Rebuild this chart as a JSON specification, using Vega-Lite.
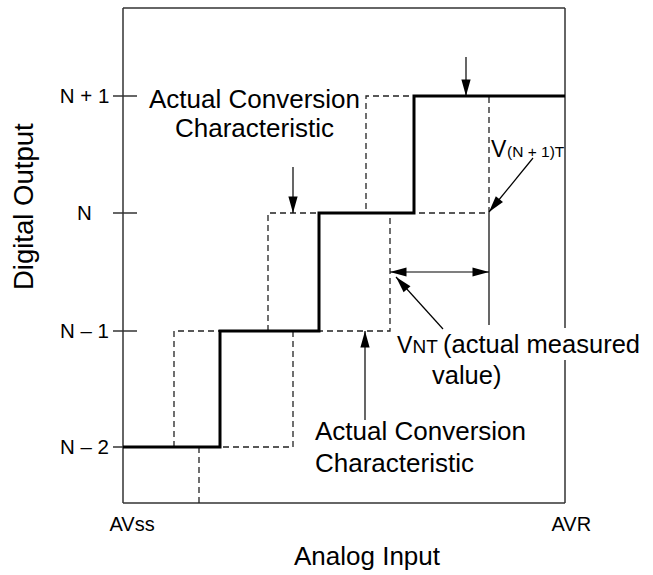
{
  "$schema": "https://vega.github.io/schema/vega-lite/v6.json",
  "width": 442,
  "height": 495,
  "autosize": {"type": "none"},
  "padding": {"left": 123, "top": 8, "right": 88, "bottom": 72},
  "background": "white",
  "config": {"view": {"stroke": null}, "font": "Liberation Sans", "axis": {"labelColor": "#000", "labelFont": "Liberation Sans"}},
  "datasets": {
    "frame": [
      {"x": 0, "y": 0, "x2": 0, "y2": 495},
      {"x": 0, "y": 495, "x2": 442, "y2": 495},
      {"x": 0, "y": 0, "x2": 442, "y2": 0},
      {"x": 442, "y": 175, "x2": 442, "y2": 495},
      {"x": 442, "y": 0, "x2": 442, "y2": 143},
      {"x": -10, "y": 56, "x2": 14, "y2": 56},
      {"x": -10, "y": 172, "x2": 14, "y2": 172},
      {"x": -10, "y": 290, "x2": 14, "y2": 290},
      {"x": -10, "y": 407, "x2": 14, "y2": 407}
    ],
    "dashed": [
      {"path": "left", "o": 1, "x": 51, "y": 56},
      {"path": "left", "o": 2, "x": 51, "y": 172},
      {"path": "left", "o": 3, "x": 145, "y": 172},
      {"path": "left", "o": 4, "x": 145, "y": 290},
      {"path": "left", "o": 5, "x": 243, "y": 290},
      {"path": "left", "o": 6, "x": 243, "y": 407},
      {"path": "left", "o": 7, "x": 291, "y": 407},
      {"path": "right", "o": 1, "x": 76, "y": 0},
      {"path": "right", "o": 2, "x": 76, "y": 56},
      {"path": "right", "o": 3, "x": 170, "y": 56},
      {"path": "right", "o": 4, "x": 170, "y": 172},
      {"path": "right", "o": 5, "x": 267, "y": 172},
      {"path": "right", "o": 6, "x": 267, "y": 290},
      {"path": "right", "o": 7, "x": 366, "y": 290},
      {"path": "right", "o": 8, "x": 366, "y": 407}
    ],
    "actual": [
      {"o": 1, "x": 0, "y": 56},
      {"o": 2, "x": 97, "y": 56},
      {"o": 3, "x": 97, "y": 172},
      {"o": 4, "x": 196, "y": 172},
      {"o": 5, "x": 196, "y": 290},
      {"o": 6, "x": 291, "y": 290},
      {"o": 7, "x": 291, "y": 407},
      {"o": 8, "x": 442, "y": 407}
    ],
    "shafts": [
      {"x": 366, "y": 290, "x2": 366, "y2": 178},
      {"x": 267, "y": 231, "x2": 366, "y2": 231},
      {"x": 320, "y": 174, "x2": 273, "y2": 226},
      {"x": 410, "y": 345, "x2": 366, "y2": 291},
      {"x": 343, "y": 446, "x2": 343, "y2": 407},
      {"x": 170, "y": 336, "x2": 170, "y2": 290},
      {"x": 242, "y": 83, "x2": 242, "y2": 172}
    ],
    "heads": [
      {"x": 267, "y": 231, "angle": 180},
      {"x": 366, "y": 231, "angle": 0},
      {"x": 273, "y": 226, "angle": 228},
      {"x": 366, "y": 291, "angle": 129},
      {"x": 343, "y": 407, "angle": 90},
      {"x": 170, "y": 290, "angle": 90},
      {"x": 242, "y": 172, "angle": 270}
    ],
    "texts": [
      {"text": "Actual Conversion", "role": "label", "x": 26, "y": 395},
      {"text": "Characteristic", "role": "label", "x": 52, "y": 366},
      {"text": "Actual Conversion", "role": "label", "x": 192, "y": 63},
      {"text": "Characteristic", "role": "label", "x": 192, "y": 31},
      {"text": "Analog Input", "role": "label", "x": 171, "y": -62},
      {"text": "(actual measured", "role": "note", "x": 320, "y": 150},
      {"text": "value)", "role": "note", "x": 309, "y": 119},
      {"text": "V", "role": "v", "x": 274, "y": 150},
      {"text": "NT", "role": "sub", "x": 289.5, "y": 150},
      {"text": "V", "role": "v", "x": 368, "y": 346},
      {"text": "(N + 1)T", "role": "sub2", "x": 384, "y": 346}
    ],
    "ytitle": [
      {"text": "Digital Output", "x": -90, "y": 213}
    ]
  },
  "encoding": {
    "x": {
      "field": "x", "type": "quantitative",
      "scale": {"domain": [0, 442], "nice": false, "zero": false},
      "axis": {"values": [0, 442], "labelExpr": "datum.value == 0 ? 'AVss' : 'AVR'", "labelAlign": "left", "labelFlush": false, "labelOffset": -14, "labelFontSize": 20, "labelPadding": 11, "labelBaseline": "top", "ticks": false, "domain": false, "grid": false, "title": null}
    },
    "y": {
      "field": "y", "type": "quantitative",
      "scale": {"domain": [0, 495], "nice": false, "zero": false},
      "axis": {"values": [56, 172, 290, 407], "labelExpr": "datum.value == 56 ? 'N – 2' : datum.value == 172 ? 'N – 1' : datum.value == 290 ? 'N' : 'N + 1'", "labelAlign": "center", "labelBaseline": "middle", "labelPadding": 39, "labelFontSize": 20.5, "ticks": false, "domain": false, "grid": false, "title": null}
    }
  },
  "layer": [
    {
      "data": {"name": "frame"},
      "mark": {"type": "rule", "color": "#333", "strokeWidth": 1.5},
      "encoding": {"x2": {"field": "x2"}, "y2": {"field": "y2"}}
    },
    {
      "data": {"name": "dashed"},
      "mark": {"type": "line", "color": "#222", "strokeWidth": 1.3, "strokeDash": [6, 4]},
      "encoding": {"detail": {"field": "path"}, "order": {"field": "o"}}
    },
    {
      "data": {"name": "actual"},
      "mark": {"type": "line", "color": "#000", "strokeWidth": 3, "strokeJoin": "miter", "strokeCap": "butt"},
      "encoding": {"order": {"field": "o"}}
    },
    {
      "data": {"name": "shafts"},
      "mark": {"type": "rule", "color": "#000", "strokeWidth": 1.2},
      "encoding": {"x2": {"field": "x2"}, "y2": {"field": "y2"}}
    },
    {
      "data": {"name": "heads"},
      "mark": {"type": "point", "shape": "M0,0L-1,-0.28L-1,0.28Z", "filled": true, "size": 1089, "color": "#000", "opacity": 1, "strokeWidth": 0},
      "encoding": {"angle": {"field": "angle", "type": "quantitative", "scale": null}}
    },
    {
      "data": {"name": "texts"},
      "transform": [{"filter": "datum.role == 'label'"}],
      "mark": {"type": "text", "align": "left", "baseline": "alphabetic", "color": "#000", "fontSize": 26},
      "encoding": {"text": {"field": "text"}}
    },
    {
      "data": {"name": "texts"},
      "transform": [{"filter": "datum.role == 'note'"}],
      "mark": {"type": "text", "align": "left", "baseline": "alphabetic", "color": "#000", "fontSize": 25.5},
      "encoding": {"text": {"field": "text"}}
    },
    {
      "data": {"name": "texts"},
      "transform": [{"filter": "datum.role == 'v'"}],
      "mark": {"type": "text", "align": "left", "baseline": "alphabetic", "color": "#000", "fontSize": 23},
      "encoding": {"text": {"field": "text"}}
    },
    {
      "data": {"name": "texts"},
      "transform": [{"filter": "datum.role == 'sub'"}],
      "mark": {"type": "text", "align": "left", "baseline": "alphabetic", "color": "#000", "fontSize": 19},
      "encoding": {"text": {"field": "text"}}
    },
    {
      "data": {"name": "texts"},
      "transform": [{"filter": "datum.role == 'sub2'"}],
      "mark": {"type": "text", "align": "left", "baseline": "alphabetic", "color": "#000", "fontSize": 15.5},
      "encoding": {"text": {"field": "text"}}
    },
    {
      "data": {"name": "ytitle"},
      "mark": {"type": "text", "align": "left", "baseline": "alphabetic", "angle": 270, "fontSize": 27.5, "color": "#000"},
      "encoding": {"text": {"field": "text"}}
    }
  ]
}
